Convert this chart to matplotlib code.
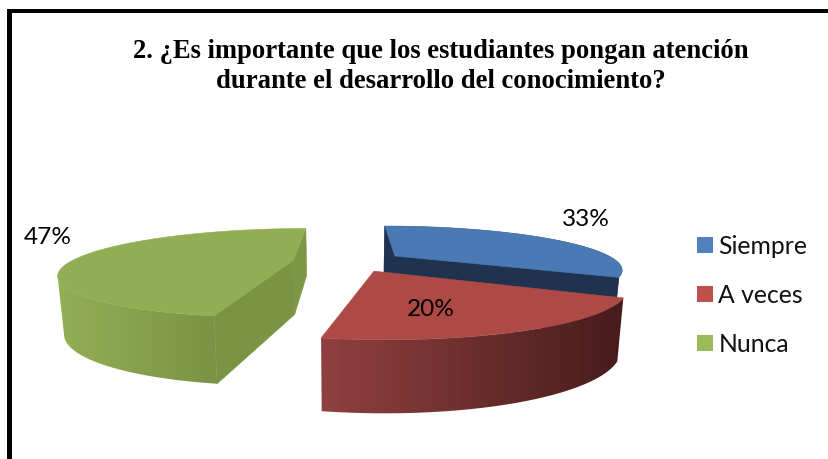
import numpy as np
import matplotlib
matplotlib.use("Agg")
import matplotlib.pyplot as plt
from matplotlib.patches import Patch, Rectangle, Polygon
from matplotlib.colors import to_rgb

categories = ["Siempre", "A veces", "Nunca"]
values = [33, 20, 47]
labels = ["33%", "20%", "47%"]
title = "2. ¿Es importante que los estudiantes pongan atención\ndurante el desarrollo del conocimiento?"

legend_colors = ["#4F81BD", "#C0504D", "#9BBB59"]
top_colors = ["#4A7AB3", "#AD4A46", "#92AE54"]
cut_colors = ["#1F334F", "#4A1E1D", "#7A9345"]
wall_left = ["#1F334F", "#90413F", "#93AF55"]
wall_right = ["#1F334F", "#471C1B", "#7A9345"]
label_pos = [(585.5, 219), (431, 310), (48, 238)]

# projection of the tilted, exploded pie onto the pixel canvas
CX, CY, A, B, K, EXPLODE = 348.6, 261.1, 222, 41.3, 0.29, 0.251
CY_BOT, B_BOT, XS_BOT = 315.6, 51.3, 0.978


def project(u, v, bottom=False):
    w = 1 / (1 + K * v)
    x = A * u * w
    if bottom:
        return CX + x * XS_BOT, CY_BOT - B_BOT * v * w
    return CX + x, CY - B * v * w


fig = plt.figure(figsize=(8.29, 4.59), dpi=100)
ax = fig.add_axes([0, 0, 1, 1])
ax.axis("off")

edges = np.deg2rad(np.concatenate([[0], np.cumsum(values)]) * 3.6)
draw_order = [2, 0, 1]

for i in draw_order:
    t0, t1 = edges[i], edges[i + 1]
    mid = (t0 + t1) / 2
    ox, oy = EXPLODE * np.sin(mid), EXPLODE * np.cos(mid)
    th = np.linspace(t0, t1, 181)
    u = ox + np.sin(th)
    v = oy + np.cos(th)
    tx, ty = project(u, v)
    bx, by = project(u, v, True)
    ax0, ay0 = project(ox, oy)
    bx0, by0 = project(ox, oy, True)

    # outer wall: only the part turned towards the viewer, shaded left to right
    if i == 2:
        keep = np.arange(0, int(np.argmin(tx)) + 1)
        xmax = tx[0]
    else:
        keep = np.arange(len(th))
        xmax = tx.max()
    xmin = min(tx.min(), bx.min())
    cl, cr = np.array(to_rgb(wall_left[i])), np.array(to_rgb(wall_right[i]))
    f = np.clip((np.linspace(xmin, tx.max(), 200) - xmin) / (xmax - xmin), 0, 1)
    grad = (cl + (cr - cl) * f[:, None])[None, :, :]
    wall = Polygon(np.c_[np.r_[tx[keep], bx[keep][::-1]], np.r_[ty[keep], by[keep][::-1]]],
                   closed=True, fc="none", ec="none", transform=ax.transData)
    ax.add_patch(wall)
    img = ax.imshow(grad, extent=(xmin, tx.max(), by.max() + 2, ty.min() - 2),
                    aspect="auto", interpolation="bilinear", zorder=2 + i)
    img.set_clip_path(wall)

    # the two cut faces
    for k in (0, -1):
        cc = cut_colors[i]
        if i == 2 and k == -1:
            cc = "#7D9749"
        if i == 1:
            continue
        ax.fill([ax0, tx[k], bx[k], bx0], [ay0, ty[k], by[k], by0],
                fc=cc, ec=cc, lw=0.4, zorder=2 + i)

    # top face
    ax.fill(np.r_[ax0, tx], np.r_[ay0, ty], fc=top_colors[i], ec=top_colors[i],
            lw=0.4, zorder=2 + i)

ax.add_patch(Rectangle((7, 9), 822, 3.5, fc="black", ec="none"))
ax.add_patch(Rectangle((7, 9), 5, 450, fc="black", ec="none"))

ax.set_xlim(0, 829)
ax.set_ylim(459, 0)

for lab, (x, y) in zip(labels, label_pos):
    ax.text(x, y, lab, ha="center", va="center", fontsize=17.6, family="Lato",
            color="black", zorder=10)

ax.text(440.5, 66.5, title, ha="center", va="center", fontsize=19.2, weight="bold",
        family="Liberation Serif", color="black", linespacing=1.27)

handles = [Patch(fc=c, ec="none") for c in legend_colors]
ax.legend(handles, categories, loc="center left", bbox_to_anchor=(692.5 / 829, 1 - 295.5 / 459),
          frameon=False, prop={"family": "Lato", "size": 17.8}, handlelength=0.61,
          handleheight=0.61, handletextpad=0.24, labelspacing=1.05,
          borderpad=0, borderaxespad=0.2, labelcolor="#111111")

fig.savefig("out.png", dpi=100, facecolor="white")
